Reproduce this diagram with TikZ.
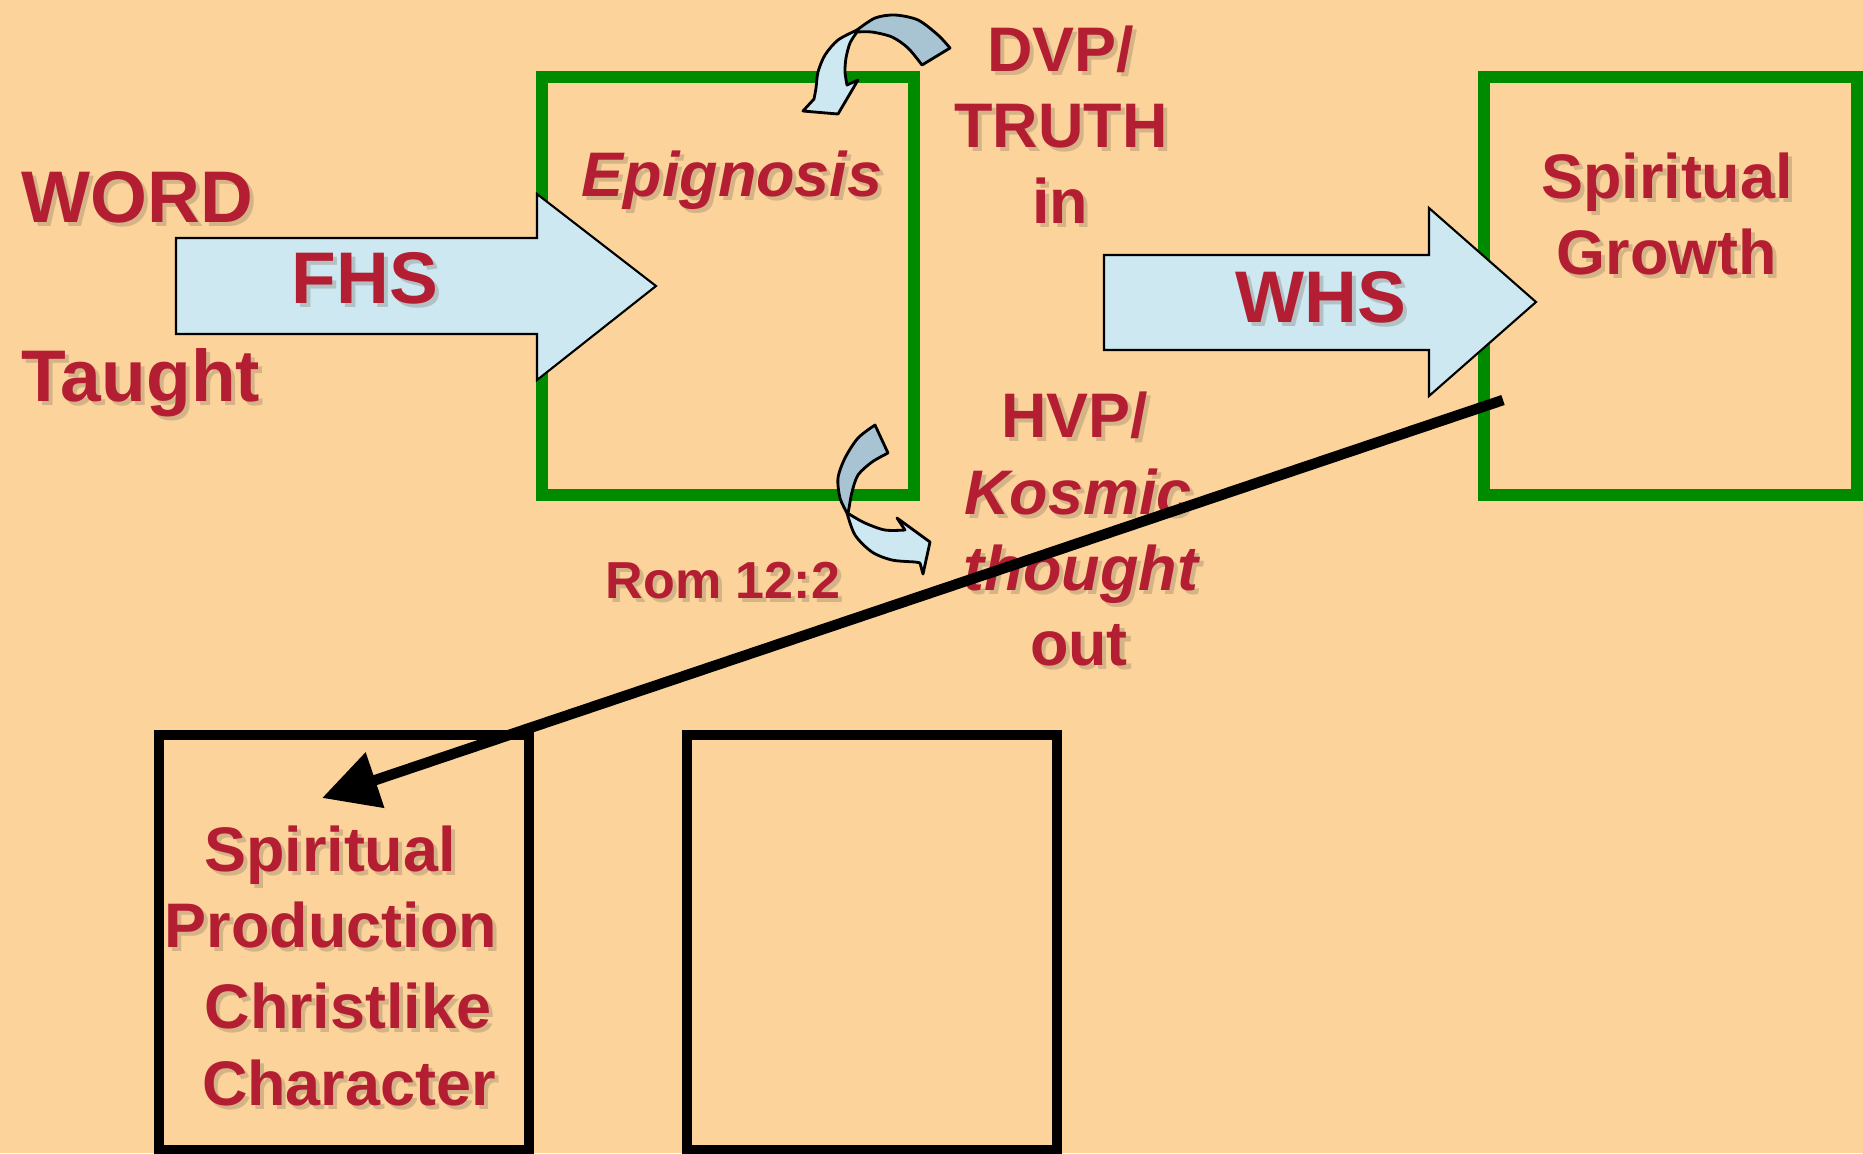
\documentclass[tikz,border=0pt]{standalone}
\usepackage{fontspec}
\setmainfont{Liberation Sans}
\usetikzlibrary{arrows.meta}
\definecolor{bg}{HTML}{FCD49B}
\definecolor{grn}{HTML}{008A00}
\definecolor{wred}{HTML}{B41E32}
\definecolor{lblue}{HTML}{CDE8F1}
\definecolor{dblue}{HTML}{A8C4D2}
\definecolor{shadowc}{HTML}{6E6250}
\newcommand\stx[5][]{%
  \node[#1,text=shadowc,text opacity=0.28] (#2-sh) at (#3+4,#4+4) {#5};
  \node[#1] (#2) at (#3,#4) {#5};}
\begin{document}
\begin{tikzpicture}[x=0.01cm,y=-0.01cm,
  big/.style={text=wred,font=\fontsize{20.8}{24}\selectfont\bfseries,inner sep=0pt,anchor=base},
  mid/.style={text=wred,font=\fontsize{17.9}{21}\selectfont\bfseries,inner sep=0pt,anchor=base},
  midit/.style={mid,font=\fontsize{17.9}{21}\selectfont\bfseries\itshape},
  small/.style={text=wred,font=\fontsize{14.8}{17}\selectfont\bfseries,inner sep=0pt,anchor=base},
  gbox/.style={draw=grn,line width=0.12cm,inner sep=0pt,minimum width=3.72cm,minimum height=4.18cm},
  kbox/.style={draw=black,line width=0.10cm,inner sep=0pt,minimum width=3.69cm,minimum height=4.15cm},
  barrow/.style={fill=lblue,draw=black,line width=0.6pt,line join=miter},
  cfront/.style={fill=lblue,draw=black,line width=0.8pt,line join=round},
  cback/.style={fill=dblue,draw=black,line width=0.8pt,line join=round}]
\fill[bg] (0,0) rectangle (1863,1153);
\useasboundingbox (0,0) rectangle (1863,1153);

% boxes
\node[gbox] (epibox) at (728,286) {};
\node[gbox] (growbox) at (1670.5,286) {};
\node[kbox] (prodbox) at (344,942.5) {};
\node[kbox] (emptybox) at (872,942.5) {};

% texts
\stx[big,anchor=base west]{word}{21}{222}{WORD}
\stx[big,anchor=base west]{taught}{21}{401}{Taught}
\stx[midit]{epi}{732}{196}{Epignosis}
\stx[mid]{dvp}{1061}{71}{DVP/}
\stx[mid]{truth}{1061}{147}{TRUTH}
\stx[mid]{in}{1060}{223}{in}
\stx[mid]{sgA}{1667}{198}{Spiritual}
\stx[mid]{sgB}{1667}{274}{Growth}
\stx[mid]{hvp}{1075}{437}{HVP/}
\stx[midit]{kos}{1078}{514}{Kosmic}
\stx[midit]{thought}{1081}{590}{thought}
\stx[mid]{out}{1079}{665}{out}
\stx[small]{rom}{723}{598}{Rom 12:2}
\stx[mid]{spA}{330}{871}{Spiritual}
\stx[mid]{spB}{331}{947}{Production}
\stx[mid]{spC}{348}{1028}{Christlike}
\stx[mid]{spD}{349}{1105}{Character}

% block arrows
\draw[barrow] (176,238) -- (537,238) -- (537,194) -- (656,286) -- (537,380) -- (537,334) -- (176,334) -- cycle;
\draw[barrow] (1104,255) -- (1429,255) -- (1429,208) -- (1536,302) -- (1429,396) -- (1429,350) -- (1104,350) -- cycle;
\stx[big]{fhs}{365}{303}{FHS}
\stx[big]{whs}{1321}{322}{WHS}

% curved arrow at top
\filldraw[cback] (857,30) -- plot[smooth] coordinates {(857,30) (875,18) (895,15) (918,20) (938,35) (950,48)}
  -- (922,65) -- plot[smooth] coordinates {(922,65) (908,48) (892,37) (872,32) (857,32)} -- cycle;
\filldraw[cfront] (857,30) -- plot[smooth] coordinates {(857,30) (838,40) (825,55) (818,72) (816,88) (814,99)}
  -- (803,111) -- (838,114) -- (858,80) -- (847,85)
  -- plot[smooth] coordinates {(847,85) (845,72) (846,58) (850,43) (857,32)} -- cycle;

% curved arrow at bottom
\filldraw[cback] (875,425) -- plot[smooth] coordinates {(875,425) (858,438) (845,458) (838,478) (840,498) (847,513)}
  -- plot[smooth] coordinates {(848,513) (849,508) (852,492) (858,475) (872,462) (888,453)} -- cycle;
\filldraw[cfront] (847,513) -- plot[smooth] coordinates {(847,513) (855,535) (872,552) (892,560) (915,562) (920,563)}
  -- (923,574) -- (930,542) -- (897,518) -- (905,530)
  -- plot[smooth] coordinates {(905,530) (885,530) (865,523) (849,514)} -- cycle;

% connector
\coordinate (lstart) at (1503,400);
\coordinate (ltip) at (322,798);
\draw[line width=0.105cm,-{Triangle[length=0.56cm,width=0.56cm]}] (lstart) -- (ltip);
\end{tikzpicture}
\end{document}
